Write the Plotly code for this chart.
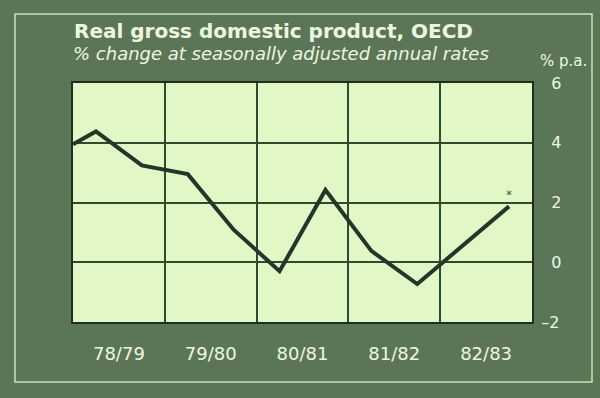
import plotly.graph_objects as go

# Data (half-year points, x in years from start of 78/79)
x_pos = [0, 0.25, 0.75, 1.25, 1.75, 2.25, 2.75, 3.25, 3.75, 4.25, 4.75]
gdp = [3.95, 4.38, 3.24, 2.95, 1.09, -0.3, 2.42, 0.38, -0.73, 0.57, 1.87]
categories = ["78/79", "79/80", "80/81", "81/82", "82/83"]
cat_pos = [0.5, 1.5, 2.5, 3.5, 4.5]
y_ticks = [-2, 0, 2, 4, 6]
y_text = ["\u20132", "\u20070", "\u20072", "\u20074", "\u20076"]

BG = "#5b7657"
PLOT_BG = "#e1f7c6"
GRID = "#2e4a31"
LINE = "#22372a"
TXT = "#eef6e2"
FONT = "DejaVu Sans"

fig = go.Figure()
fig.add_trace(go.Scatter(x=x_pos, y=gdp, mode="lines",
                         line=dict(color=LINE, width=4), hoverinfo="skip"))

fig.update_layout(
    width=600, height=398,
    margin=dict(l=73, r=68, t=83, b=76),
    paper_bgcolor=BG, plot_bgcolor=PLOT_BG,
    showlegend=False,
    font=dict(family=FONT, color=TXT, size=16),
    xaxis=dict(range=[0, 5], tickvals=cat_pos, ticktext=categories,
               showgrid=False, zeroline=False, ticks="",
               ticklabelstandoff=14,
               showline=True, mirror=True, linecolor="#1c2f20", linewidth=2,
               minor=dict(tickvals=[1, 2, 3, 4], showgrid=True,
                          gridcolor=GRID, gridwidth=1.5),
               tickfont=dict(family=FONT, size=18, color=TXT)),
    yaxis=dict(range=[-2, 6], side="right", tickvals=y_ticks, ticktext=y_text,
               showgrid=True, gridcolor=GRID, gridwidth=1.5, zeroline=False,
               ticks="outside", ticklen=4, tickcolor="rgba(0,0,0,0)",
               showline=True, mirror=True, linecolor="#1c2f20", linewidth=2,
               tickfont=dict(family=FONT, size=16, color=TXT)),
)

# Frame around the chart
fig.add_shape(type="rect", xref="paper", yref="paper",
              x0=(15 - 73) / 459, x1=(592 - 73) / 459,
              y0=(322 - 382) / 239, y1=1 + (83 - 14) / 239,
              line=dict(color="#c9e2b6", width=1.5), layer="below")

fig.add_annotation(text="Real gross domestic product, OECD", xref="paper", yref="paper",
                   x=(72 - 73) / 459, y=1 + (83 - 31) / 239, xanchor="left", yanchor="middle",
                   showarrow=False,
                   font=dict(family=FONT, size=20, color=TXT, weight="bold"))
fig.add_annotation(text="% change at seasonally adjusted annual rates", xref="paper", yref="paper",
                   x=(71 - 73) / 459, y=1 + (83 - 53) / 239, xanchor="left", yanchor="middle",
                   showarrow=False,
                   font=dict(family=FONT, size=18, color=TXT, style="italic"))
fig.add_annotation(text="% p.a.", xref="paper", yref="paper",
                   x=(538 - 73) / 459, y=1 + (83 - 61) / 239, xanchor="left", yanchor="middle",
                   showarrow=False,
                   font=dict(family=FONT, size=15, color=TXT))
fig.add_annotation(text="*", x=x_pos[-1], y=gdp[-1], yshift=11, showarrow=False,
                   font=dict(family=FONT, size=12, color="#555"))

fig.write_html("out.html", config={"displayModeBar": False},
               post_script="document.body.style.margin='0';")
